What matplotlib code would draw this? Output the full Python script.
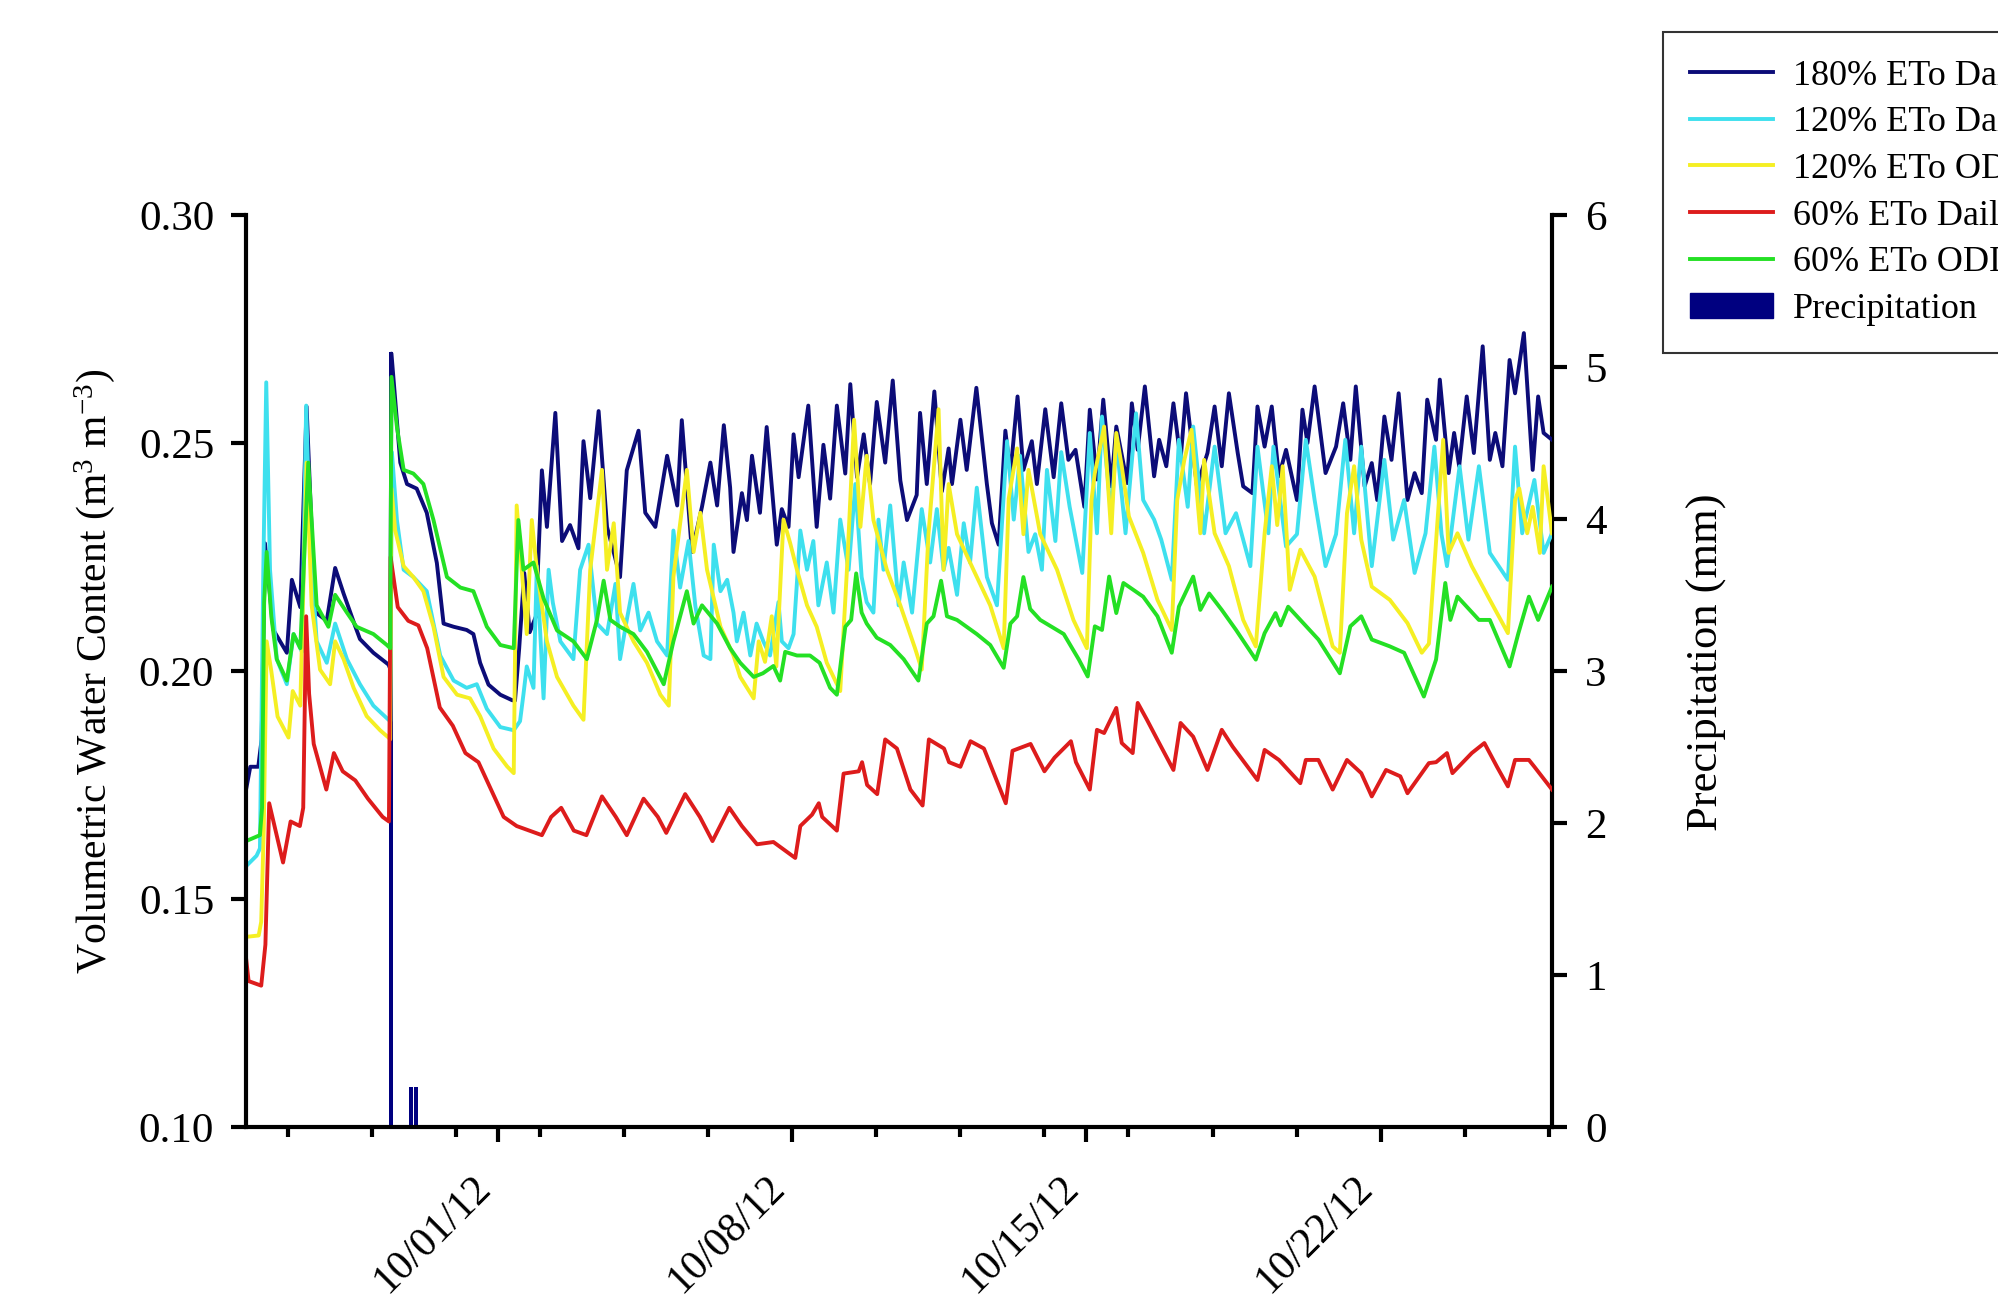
import datetime
import numpy as np
import matplotlib
matplotlib.use('Agg')
import matplotlib.pyplot as plt
import matplotlib.dates as mdates
from matplotlib.patches import Patch

plt.rcParams['font.family'] = ['Liberation Serif', 'DejaVu Serif']
plt.rcParams['mathtext.fontset'] = 'custom'
plt.rcParams['mathtext.rm'] = 'Liberation Serif'
plt.rcParams['mathtext.it'] = 'Liberation Serif:italic'

# days since 9/25/12 00:00 and soil moisture (m3 m-3)
start = datetime.datetime(2012, 9, 25)

t_180d = [0.00, 0.10, 0.29, 0.37, 0.45, 0.65, 0.97, 1.09, 1.29, 1.44, 1.64, 1.92, 2.12, 2.32, 2.59, 2.71,
          3.03, 3.39, 3.43, 3.46, 3.67, 3.83, 4.06, 4.30, 4.54, 4.70, 4.94, 5.25, 5.41, 5.57, 5.77, 6.05,
          6.33, 6.40, 6.50, 6.62, 6.75, 6.90, 7.04, 7.16, 7.36, 7.52, 7.71, 7.91, 8.03, 8.19, 8.39, 8.59,
          8.75, 8.90, 9.06, 9.34, 9.50, 9.74, 10.02, 10.26, 10.37, 10.61, 10.85, 11.05, 11.21, 11.37, 11.52,
          11.60, 11.80, 11.92, 12.04, 12.23, 12.39, 12.63, 12.75, 12.91, 13.03, 13.15, 13.38, 13.58, 13.74,
          13.90, 14.06, 14.26, 14.38, 14.54, 14.70, 14.85, 15.01, 15.21, 15.39, 15.57, 15.73, 15.96, 16.04,
          16.20, 16.38, 16.56, 16.72, 16.80, 17.00, 17.15, 17.38, 17.63, 17.75, 17.91, 18.07, 18.19, 18.36,
          18.50, 18.70, 18.82, 19.02, 19.22, 19.40, 19.57, 19.74, 19.95, 20.08, 20.25, 20.40, 20.59, 20.71,
          20.97, 21.08, 21.22, 21.39, 21.61, 21.73, 21.90, 22.07, 22.24, 22.37, 22.63, 22.88, 23.05, 23.22,
          23.39, 23.60, 23.73, 23.95, 24.07, 24.24, 24.41, 24.58, 24.75, 25.01, 25.14, 25.26, 25.43, 25.69,
          25.94, 26.11, 26.28, 26.41, 26.62, 26.79, 26.92, 27.09, 27.26, 27.43, 27.64, 27.81, 27.98, 28.11,
          28.32, 28.41, 28.62, 28.75, 28.87, 29.05, 29.22, 29.43, 29.60, 29.73, 29.90, 30.07, 30.20, 30.41,
          30.62, 30.75, 30.88, 31.08]
vwc_180d = [0.174, 0.179, 0.179, 0.185, 0.228, 0.209, 0.204, 0.220, 0.214, 0.258, 0.213, 0.211, 0.2226, 0.217,
            0.210, 0.207, 0.204, 0.2014, 0.2005, 0.2696, 0.2457, 0.241, 0.240, 0.2347, 0.2237, 0.2104, 0.2097,
            0.209, 0.2081, 0.2018, 0.197, 0.1948, 0.1936, 0.1935, 0.205, 0.2215, 0.2085, 0.212, 0.244, 0.2316,
            0.2566, 0.2285, 0.232, 0.2269, 0.2504, 0.2379, 0.257, 0.2316, 0.226, 0.2206, 0.244, 0.2527, 0.2347,
            0.2316, 0.2472, 0.2363, 0.255, 0.2261, 0.236, 0.2457, 0.2363, 0.2539, 0.2402, 0.2261, 0.239, 0.2331,
            0.2472, 0.2347, 0.2535, 0.2277, 0.2355, 0.2316, 0.2519, 0.2425, 0.2582, 0.2316, 0.2496, 0.2378,
            0.2582, 0.2433, 0.2629, 0.2425, 0.2519, 0.241, 0.259, 0.2457, 0.2637, 0.2418, 0.2331, 0.2386, 0.2566,
            0.241, 0.2613, 0.2394, 0.2488, 0.241, 0.2551, 0.2441, 0.2621, 0.241, 0.2324, 0.2277, 0.2527, 0.2433,
            0.2602, 0.2441, 0.2504, 0.241, 0.2574, 0.2425, 0.2587, 0.2463, 0.2485, 0.236, 0.2573, 0.242, 0.2595,
            0.2405, 0.2536, 0.2412, 0.2587, 0.2485, 0.2624, 0.2427, 0.2507, 0.2449, 0.2587, 0.2463, 0.2609,
            0.2405, 0.2478, 0.258, 0.2449, 0.2609, 0.2478, 0.2405, 0.239, 0.258, 0.2492, 0.258, 0.2427, 0.2485,
            0.2375, 0.2573, 0.250, 0.2624, 0.2434, 0.2492, 0.2587, 0.2463, 0.2624, 0.2405, 0.2456, 0.2375, 0.2558,
            0.2463, 0.2609, 0.2375, 0.2434, 0.239, 0.2595, 0.2507, 0.2639, 0.2434, 0.2522, 0.2449, 0.2602, 0.2478,
            0.2712, 0.2463, 0.2522, 0.2449, 0.2682, 0.2609, 0.2741, 0.2441, 0.2602, 0.2522, 0.2507]

t_120d = [0.00, 0.25, 0.33, 0.41, 0.48, 0.57, 0.73, 0.97, 1.13, 1.33, 1.43, 1.52, 1.68, 1.92, 2.12, 2.40,
          2.71, 3.03, 3.39, 3.43, 3.47, 3.59, 3.75, 3.98, 4.30, 4.62, 4.94, 5.25, 5.49, 5.73, 6.05, 6.37,
          6.52, 6.60, 6.68, 6.84, 6.92, 7.08, 7.20, 7.30, 7.48, 7.79, 7.95, 8.15, 8.35, 8.59, 8.79, 8.90,
          9.06, 9.22, 9.38, 9.58, 9.78, 10.02, 10.17, 10.33, 10.53, 10.69, 10.89, 11.05, 11.13, 11.29, 11.45,
          11.60, 11.68, 11.84, 12.00, 12.15, 12.31, 12.47, 12.67, 12.75, 12.91, 13.03, 13.19, 13.35, 13.50,
          13.62, 13.82, 13.98, 14.14, 14.34, 14.50, 14.65, 14.77, 14.93, 15.05, 15.17, 15.33, 15.53, 15.65,
          15.85, 16.08, 16.28, 16.44, 16.60, 16.72, 16.92, 17.08, 17.23, 17.39, 17.63, 17.87, 18.11, 18.27,
          18.42, 18.62, 18.78, 18.94, 19.06, 19.26, 19.40, 19.60, 19.90, 20.08, 20.25, 20.37, 20.59, 20.71,
          20.93, 21.18, 21.35, 21.61, 21.78, 22.03, 22.20, 22.41, 22.54, 22.80, 23.05, 23.31, 23.56, 23.90,
          24.07, 24.33, 24.45, 24.75, 25.01, 25.22, 25.43, 25.69, 25.94, 26.16, 26.37, 26.54, 26.79, 27.09,
          27.30, 27.56, 27.81, 28.07, 28.28, 28.45, 28.58, 28.88, 29.09, 29.34, 29.60, 30.03, 30.20, 30.37,
          30.66, 30.88, 31.08]
vwc_120d = [0.1572, 0.1595, 0.1611, 0.2222, 0.2633, 0.2222, 0.2026, 0.1971, 0.2081, 0.2042, 0.2582, 0.230,
            0.2065, 0.2018, 0.2104, 0.2026, 0.1971, 0.1924, 0.1893, 0.189, 0.248, 0.2331, 0.2222, 0.2206, 0.2175,
            0.2034, 0.1979, 0.1963, 0.1971, 0.1917, 0.1877, 0.187, 0.189, 0.1948, 0.201, 0.1963, 0.223, 0.194,
            0.2222, 0.215, 0.2065, 0.2026, 0.2222, 0.2277, 0.2104, 0.2081, 0.2191, 0.2026, 0.2112, 0.2191, 0.2089,
            0.2128, 0.2065, 0.2034, 0.2308, 0.2183, 0.2285, 0.2144, 0.2034, 0.2026, 0.2277, 0.2175, 0.220, 0.2128,
            0.2065, 0.2128, 0.2034, 0.2104, 0.2065, 0.2034, 0.2151, 0.2065, 0.205, 0.2081, 0.2308, 0.2222, 0.2285,
            0.2144, 0.2238, 0.2128, 0.2332, 0.2222, 0.241, 0.2206, 0.2151, 0.2128, 0.2332, 0.2222, 0.2363, 0.2144,
            0.2238, 0.2128, 0.2355, 0.2238, 0.2355, 0.2222, 0.227, 0.2167, 0.2324, 0.2238, 0.2402, 0.2206, 0.2144,
            0.2504, 0.2332, 0.2472, 0.2261, 0.230, 0.2222, 0.2441, 0.2285, 0.248, 0.236, 0.2215, 0.2522, 0.2302,
            0.2558, 0.2339, 0.2507, 0.2302, 0.2565, 0.2375, 0.2332, 0.2288, 0.220, 0.2507, 0.236, 0.2536, 0.2302,
            0.2492, 0.2302, 0.2346, 0.223, 0.2492, 0.2302, 0.2492, 0.2273, 0.230, 0.2507, 0.2375, 0.223, 0.230,
            0.2507, 0.2302, 0.2492, 0.223, 0.2463, 0.2288, 0.2375, 0.2215, 0.2302, 0.2492, 0.230, 0.223, 0.2449,
            0.2288, 0.2449, 0.2259, 0.220, 0.2492, 0.2302, 0.2419, 0.2259, 0.2302]

t_120o = [0.00, 0.30, 0.36, 0.42, 0.49, 0.60, 0.75, 1.01, 1.11, 1.29, 1.44, 1.56, 1.76, 2.00, 2.12, 2.32,
          2.56, 2.87, 3.19, 3.39, 3.43, 3.46, 3.55, 3.75, 3.98, 4.22, 4.46, 4.70, 5.02, 5.33, 5.57, 5.89,
          6.21, 6.37, 6.44, 6.56, 6.68, 6.80, 6.92, 7.16, 7.40, 7.79, 8.03, 8.19, 8.47, 8.59, 8.75, 8.90,
          9.22, 9.54, 9.86, 10.06, 10.17, 10.49, 10.65, 10.81, 10.97, 11.29, 11.60, 11.76, 12.08, 12.20,
          12.35, 12.51, 12.62, 12.79, 12.95, 13.11, 13.35, 13.58, 13.82, 14.14, 14.30, 14.47, 14.62, 14.77,
          14.93, 15.25, 15.57, 15.92, 16.08, 16.24, 16.48, 16.60, 16.72, 16.92, 17.31, 17.71, 18.03, 18.15,
          18.35, 18.50, 18.62, 18.90, 19.30, 19.69, 20.01, 20.12, 20.20, 20.42, 20.59, 20.71, 20.84, 21.01,
          21.35, 21.69, 22.03, 22.16, 22.33, 22.50, 22.71, 22.80, 23.05, 23.39, 23.73, 24.03, 24.24, 24.41,
          24.54, 24.67, 24.84, 25.09, 25.43, 25.86, 26.03, 26.20, 26.37, 26.54, 26.79, 27.22, 27.64, 27.98,
          28.15, 28.49, 28.62, 28.83, 29.17, 29.60, 30.03, 30.20, 30.30, 30.49, 30.62, 30.79, 30.88, 31.08]
vwc_120o = [0.1417, 0.142, 0.145, 0.165, 0.2065, 0.200, 0.190, 0.1854, 0.1956, 0.1924, 0.2457, 0.2144, 0.2003,
            0.1971, 0.2065, 0.2026, 0.1963, 0.1901, 0.187, 0.1854, 0.185, 0.240, 0.2308, 0.223, 0.2206, 0.2175,
            0.2097, 0.1987, 0.1948, 0.194, 0.1901, 0.183, 0.1791, 0.1776, 0.2363, 0.2222, 0.2081, 0.2331, 0.2222,
            0.2065, 0.1987, 0.1924, 0.1893, 0.2222, 0.2441, 0.2222, 0.2324, 0.2128, 0.2065, 0.2018, 0.1948,
            0.1924, 0.2206, 0.2441, 0.2261, 0.2347, 0.2222, 0.2097, 0.2034, 0.1987, 0.194, 0.2065, 0.202, 0.212,
            0.201, 0.2332, 0.228, 0.2222, 0.2144, 0.2097, 0.2018, 0.1956, 0.2222, 0.2551, 0.2316, 0.2472, 0.2331,
            0.2222, 0.2144, 0.205, 0.2003, 0.230, 0.2574, 0.2222, 0.241, 0.230, 0.2222, 0.2144, 0.205, 0.2378,
            0.2488, 0.230, 0.2441, 0.230, 0.2222, 0.2112, 0.205, 0.2375, 0.2434, 0.2536, 0.2302, 0.2522, 0.2449,
            0.2339, 0.2259, 0.2156, 0.209, 0.2375, 0.2463, 0.2529, 0.2302, 0.2463, 0.2302, 0.223, 0.2112, 0.2054,
            0.2302, 0.2449, 0.232, 0.2449, 0.2178, 0.2266, 0.2207, 0.2054, 0.204, 0.2346, 0.2449, 0.2288, 0.2185,
            0.2156, 0.2105, 0.204, 0.206, 0.2507, 0.2259, 0.2302, 0.223, 0.2156, 0.2083, 0.2375, 0.240, 0.2302,
            0.236, 0.2259, 0.2449, 0.2302]

t_60d = [0.00, 0.06, 0.36, 0.46, 0.55, 0.88, 1.06, 1.28, 1.36, 1.43, 1.50, 1.61, 1.91, 2.09, 2.30, 2.60,
         2.90, 3.25, 3.40, 3.44, 3.61, 3.86, 4.10, 4.31, 4.61, 4.92, 5.22, 5.53, 5.83, 6.13, 6.44, 6.74,
         7.04, 7.26, 7.50, 7.80, 8.10, 8.47, 8.80, 9.06, 9.46, 9.80, 10.00, 10.45, 10.80, 11.10, 11.50,
         11.80, 12.16, 12.55, 13.07, 13.19, 13.47, 13.63, 13.71, 14.06, 14.22, 14.58, 14.66, 14.78, 15.02,
         15.21, 15.49, 15.81, 16.10, 16.25, 16.61, 16.73, 17.00, 17.24, 17.56, 18.08, 18.24, 18.67, 19.00,
         19.24, 19.63, 19.75, 20.08, 20.25, 20.42, 20.71, 20.84, 21.10, 21.22, 21.44, 21.69, 22.07, 22.24,
         22.54, 22.88, 23.22, 23.48, 24.07, 24.24, 24.58, 25.09, 25.22, 25.52, 25.86, 26.20, 26.54, 26.79,
         27.13, 27.47, 27.64, 28.15, 28.32, 28.58, 28.71, 29.17, 29.47, 29.77, 30.03, 30.20, 30.53, 30.66,
         31.08]
vwc_60d = [0.137, 0.132, 0.131, 0.140, 0.171, 0.158, 0.167, 0.166, 0.170, 0.212, 0.195, 0.184, 0.174, 0.182,
           0.178, 0.176, 0.172, 0.168, 0.167, 0.225, 0.214, 0.211, 0.210, 0.205, 0.192, 0.188, 0.182, 0.180,
           0.174, 0.168, 0.166, 0.165, 0.164, 0.168, 0.170, 0.165, 0.164, 0.1725, 0.168, 0.164, 0.172, 0.168,
           0.1645, 0.173, 0.168, 0.1627, 0.170, 0.166, 0.162, 0.1625, 0.159, 0.166, 0.1685, 0.171, 0.168, 0.165,
           0.1775, 0.178, 0.180, 0.175, 0.173, 0.185, 0.183, 0.174, 0.1705, 0.185, 0.183, 0.180, 0.179, 0.1846,
           0.183, 0.171, 0.1825, 0.184, 0.178, 0.181, 0.1846, 0.180, 0.174, 0.1871, 0.1864, 0.1919, 0.1842,
           0.182, 0.193, 0.1893, 0.1849, 0.1783, 0.1886, 0.1856, 0.1783, 0.1871, 0.1834, 0.1761, 0.1827, 0.1805,
           0.1754, 0.1805, 0.1805, 0.174, 0.1805, 0.1776, 0.1725, 0.1783, 0.1769, 0.1732, 0.1798, 0.180, 0.182,
           0.1776, 0.182, 0.1842, 0.179, 0.1747, 0.1805, 0.1805, 0.179, 0.174]

t_60o = [0.00, 0.33, 0.38, 0.43, 0.49, 0.60, 0.73, 0.97, 1.13, 1.29, 1.48, 1.68, 1.96, 2.12, 2.40, 2.63,
         3.03, 3.35, 3.43, 3.46, 3.59, 3.75, 3.98, 4.22, 4.46, 4.78, 5.10, 5.41, 5.73, 6.05, 6.37, 6.48,
         6.60, 6.84, 7.08, 7.40, 7.79, 8.11, 8.35, 8.51, 8.67, 8.90, 9.22, 9.54, 9.94, 10.17, 10.49, 10.65,
         10.85, 11.21, 11.52, 11.76, 12.08, 12.30, 12.55, 12.71, 12.83, 13.11, 13.42, 13.65, 13.90, 14.06,
         14.26, 14.40, 14.52, 14.65, 14.77, 15.01, 15.33, 15.65, 16.00, 16.20, 16.36, 16.54, 16.68, 16.92,
         17.39, 17.71, 18.03, 18.19, 18.35, 18.50, 18.66, 18.90, 19.46, 19.82, 20.03, 20.20, 20.37, 20.54,
         20.71, 20.88, 21.35, 21.69, 22.03, 22.20, 22.54, 22.71, 22.92, 23.22, 23.56, 24.03, 24.24, 24.50,
         24.62, 24.80, 25.09, 25.52, 26.03, 26.28, 26.54, 26.79, 27.22, 27.56, 28.03, 28.32, 28.54, 28.66,
         28.83, 29.34, 29.60, 30.07, 30.28, 30.53, 30.75, 31.08]
vwc_60o = [0.1627, 0.164, 0.170, 0.215, 0.2261, 0.212, 0.2026, 0.1979, 0.2081, 0.205, 0.2457, 0.2144, 0.2097,
           0.2167, 0.2128, 0.2097, 0.2081, 0.2057, 0.205, 0.2645, 0.2535, 0.2441, 0.2433, 0.241, 0.2331, 0.2206,
           0.2183, 0.2175, 0.2097, 0.2057, 0.205, 0.2331, 0.2222, 0.2238, 0.2159, 0.2089, 0.2065, 0.2026, 0.2112,
           0.2198, 0.2112, 0.2097, 0.2081, 0.2042, 0.1971, 0.2065, 0.2175, 0.2104, 0.2144, 0.2104, 0.205, 0.2018,
           0.1987, 0.1995, 0.2011, 0.1979, 0.2042, 0.2034, 0.2034, 0.2018, 0.1963, 0.1948, 0.2097, 0.2112, 0.2214,
           0.2128, 0.2104, 0.2073, 0.2057, 0.2026, 0.1979, 0.2104, 0.212, 0.2198, 0.212, 0.2112, 0.2081, 0.2057,
           0.2007, 0.2104, 0.212, 0.2206, 0.2136, 0.2112, 0.2081, 0.2025, 0.1988, 0.2098, 0.209, 0.2207, 0.2127,
           0.2193, 0.2163, 0.212, 0.204, 0.2141, 0.2207, 0.2134, 0.217, 0.2134, 0.209, 0.2025, 0.2083, 0.2127,
           0.210, 0.2141, 0.2112, 0.2069, 0.1995, 0.2098, 0.212, 0.2069, 0.2054, 0.204, 0.1944, 0.2025, 0.2193,
           0.2112, 0.2163, 0.2112, 0.2112, 0.201, 0.2083, 0.2163, 0.2112, 0.2185]

t_rain = [3.445, 3.92, 4.05]
rain_mm = [5.1, 0.26, 0.26]

series = [
    (t_180d, vwc_180d, '#0c0c78', '180% ETo Daily'),
    (t_120d, vwc_120d, '#3ee0ee', '120% ETo Daily'),
    (t_120o, vwc_120o, '#f5ef23', '120% ETo ODD'),
    (t_60d, vwc_60d, '#dd1c1c', '60% ETo Daily'),
    (t_60o, vwc_60o, '#24e024', '60% ETo ODD'),
]

t0 = mdates.date2num(start)

fig = plt.figure(figsize=(19.99, 12.99), dpi=100)
ax = fig.add_axes([0.1231, 0.1324, 0.6533, 0.7021])
ax2 = ax.twinx()
ax.set_zorder(ax2.get_zorder() + 1)
ax.patch.set_visible(False)

ax2.bar(t0 + np.array(t_rain), rain_mm, width=0.09, color='#000080', align='center')

handles = []
for t, v, c, name in series:
    ln, = ax.plot(t0 + np.array(t), v, color=c, lw=2.8, label=name)
    handles.append(ln)
handles.append(Patch(facecolor='#000080', edgecolor='#000080', label='Precipitation'))

ax.set_xlim(t0, t0 + 31.08)
ax.set_ylim(0.10, 0.30)
ax2.set_ylim(0, 6)
ax.set_yticks([0.10, 0.15, 0.20, 0.25, 0.30])
ax.yaxis.set_major_formatter(plt.FormatStrFormatter('%.2f'))
ax2.set_yticks(range(0, 7))

ax.xaxis.set_major_locator(mdates.DayLocator(bymonthday=[1, 8, 15, 22]))
ax.xaxis.set_minor_locator(mdates.DayLocator(bymonthday=list(range(2, 31, 2))))
ax.xaxis.set_major_formatter(mdates.DateFormatter('%m/%d/%y'))

for s in ['top', 'right']:
    ax.spines[s].set_visible(False)
for s in ['top', 'left', 'bottom']:
    ax2.spines[s].set_visible(False)
for s in ['left', 'bottom']:
    ax.spines[s].set_linewidth(3)
ax2.spines['right'].set_linewidth(3)

ax.tick_params(axis='y', direction='out', length=11, width=3, labelsize=31, pad=12)
ax.tick_params(axis='x', which='major', direction='out', length=11, width=3, labelsize=30, pad=19)
ax.tick_params(axis='x', which='minor', direction='out', length=7, width=3)
ax2.tick_params(axis='y', direction='out', length=11, width=3, labelsize=31, pad=13)
plt.setp(ax.get_xticklabels(), rotation=45, ha='right')

ax.set_ylabel(r'Volumetric Water Content (m$^{3}$ m$^{-3}$)', fontsize=30)
ax.yaxis.set_label_coords(-0.099, 0.5)
ax2.set_ylabel('Precipitation (mm)', fontsize=32)
ax2.yaxis.set_label_coords(1.103, 0.51)

leg = fig.legend(handles=handles, loc='upper left', bbox_to_anchor=(0.832, 0.975), fontsize=26,
                 frameon=True, fancybox=False, edgecolor='black', handlelength=2.3,
                 handletextpad=0.55, labelspacing=0.37, borderpad=0.75, borderaxespad=0)
leg.get_frame().set_linewidth(1.5)

plt.savefig('out.png', dpi=100)
